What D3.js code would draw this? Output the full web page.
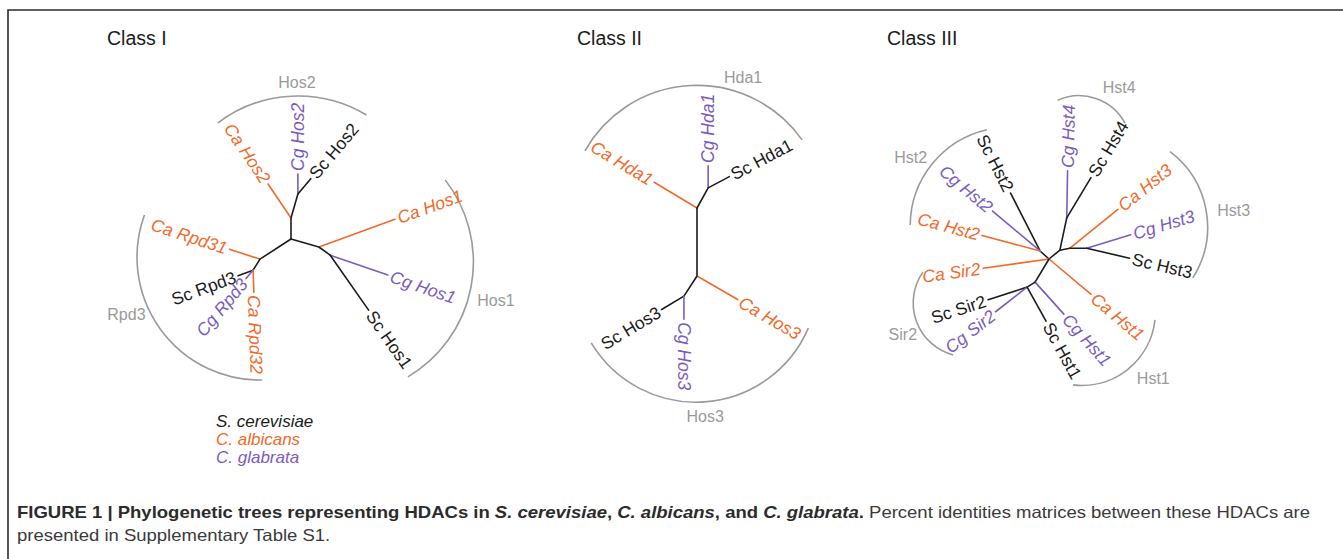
<!DOCTYPE html>
<html><head><meta charset="utf-8">
<script src="https://cdn.jsdelivr.net/npm/d3@7"></script>
<style>body{margin:0;background:#fff}svg{display:block}</style>
</head><body>
<svg id="chart" width="1343" height="559"></svg>
<script>
// ---------------- DATA ----------------
const classTitles = ["Class I", "Class II", "Class III"];
const speciesNames = ["S. cerevisiae", "C. albicans", "C. glabrata"];
const speciesPrefixes = ["Sc", "Ca", "Cg"];

// tree edges: [parent, child, branch length, branch direction (deg, screen)]
const class1Edges = [
  ["root", "n_hos2", 0.21, -90],
  ["n_hos2", "Ca Hos2", 0.41, -124],
  ["n_hos2", "n_hos2b", 0.25, -74],
  ["n_hos2b", "Cg Hos2", 0.20, -90],
  ["n_hos2b", "Sc Hos2", 0.20, -50],
  ["root", "n_hos1", 0.29, 16],
  ["n_hos1", "Ca Hos1", 0.81, -20],
  ["n_hos1", "n_hos1b", 0.14, 36],
  ["n_hos1b", "Cg Hos1", 0.61, 19],
  ["n_hos1b", "Sc Hos1", 0.67, 55],
  ["root", "n_rpd3", 0.37, 147],
  ["n_rpd3", "Ca Rpd31", 0.32, 198],
  ["n_rpd3", "n_rpd3b", 0.13, 122],
  ["n_rpd3b", "Sc Rpd3", 0.16, 160],
  ["n_rpd3b", "Cg Rpd3", 0.11, 130],
  ["n_rpd3b", "Ca Rpd32", 0.22, 88]
];
const class2Edges = [
  ["root", "Ca Hda1", 0.50, -149],
  ["root", "n_hda1b", 0.23, -61],
  ["n_hda1b", "Cg Hda1", 0.22, -90],
  ["n_hda1b", "Sc Hda1", 0.24, -28],
  ["root", "n_hos3", 0.68, 90],
  ["n_hos3", "Ca Hos3", 0.47, 30],
  ["n_hos3", "n_hos3b", 0.24, 123],
  ["n_hos3b", "Sc Hos3", 0.26, 149],
  ["n_hos3b", "Cg Hos3", 0.23, 90]
];
const class3Edges = [
  ["root", "n_hst2", 0.12, -138],
  ["n_hst2", "Sc Hst2", 0.65, -117],
  ["n_hst2", "Cg Hst2", 0.62, -140],
  ["n_hst2", "Ca Hst2", 0.60, -165],
  ["root", "n_up", 0.14, -39],
  ["n_up", "n_hst4", 0.33, -78],
  ["n_hst4", "Cg Hst4", 0.47, -89],
  ["n_hst4", "Sc Hst4", 0.47, -59],
  ["n_up", "n_hst3", 0.10, -11],
  ["n_hst3", "Ca Hst3", 0.62, -39],
  ["n_hst3", "n_hst3b", 0.17, 0],
  ["n_hst3b", "Cg Hst3", 0.46, -17],
  ["n_hst3b", "Sc Hst3", 0.44, 13],
  ["root", "Ca Sir2", 0.665, 172],
  ["root", "Ca Hst1", 0.55, 40],
  ["root", "n_low", 0.27, 121],
  ["n_low", "Cg Hst1", 0.43, 48],
  ["n_low", "n_sir2", 0.094, 148],
  ["n_sir2", "Sc Sir2", 0.41, 162],
  ["n_sir2", "Cg Sir2", 0.40, 142],
  ["n_sir2", "Sc Hst1", 0.39, 61]
];

// clade brackets: [name, centre dx, centre dy, radius, start angle, end angle]
const class1Clades = [
  ["Hos2", 0.07, -0.10, 1.33, -127, -59],
  ["Rpd3", -0.31, 0.18, 1.23, 89, 200],
  ["Hos1", 0.49, 0.23, 1.334, -38, 59.4]
];
const class2Clades = [
  ["Hda1", 0.00, 0.06, 1.286, -150.6, -35.2],
  ["Hos3", -0.01, 0.72, 1.222, 23.2, 149]
];
const class3Clades = [
  ["Hst4", 0.30, -1.11, 0.523, -114, -28.5],
  ["Hst2", -0.40, -0.33, 0.988, -179.4, -102.9],
  ["Hst3", 0.64, -0.32, 0.946, -52.9, 32.5],
  ["Sir2", -0.82, 0.44, 0.538, 105, 215],
  ["Hst1", 0.33, 0.53, 0.734, 6.2, 97]
];

const captionBoldParts = [
  ["FIGURE 1 | Phylogenetic trees representing HDACs in ", false],
  ["S. cerevisiae", true], [", ", false], ["C. albicans", true],
  [", and ", false], ["C. glabrata", true], [".", false]
];
const captionRest = " Percent identities matrices between these HDACs are";
const captionLine2 = "presented in Supplementary Table S1.";

// ---------------- LAYOUT / STYLE ----------------
const W = 1343, H = 559;
const panels = [
  {title: classTitles[0], titleAt: [107, 45], root: [291, 239], edges: class1Edges, clades: class1Clades},
  {title: classTitles[1], titleAt: [577, 45], root: [697, 208], edges: class2Edges, clades: class2Clades},
  {title: classTitles[2], titleAt: [887, 45], root: [1049, 259], edges: class3Edges, clades: class3Clades}
];
// clade label placement: [angle, extra distance beyond arc]
const cladeLabelLayout = {
  Hos2: [-90.4, 14], Rpd3: [153.4, 5], Hos1: [15.5, 9],
  Hda1: [-71.4, 16], Hos3: [86.2, 15],
  Hst4: [-56.3, 20], Hst2: [-140, 8], Hst3: [-9.3, 11], Sir2: [148.2, 5], Hst1: [50.6, 13]
};
const FONT = "'Liberation Sans', Arial, Helvetica, sans-serif";
const speciesColor = d3.scaleOrdinal().domain(speciesPrefixes).range(["#1b1b1b", "#F26A2A", "#7A5CBF"]);
const cladeGray = "#9a9a9a";
const len = d3.scaleLinear().domain([0, 1]).range([0, 100]);
const rad = d => d * Math.PI / 180;

const svg = d3.select("#chart");
svg.append("rect").attr("width", W).attr("height", H).attr("fill", "#fff");
svg.append("path").attr("d", "M8," + H + "V10H" + W)
  .attr("fill", "none").attr("stroke", "#2b2b2b").attr("stroke-width", 1.6);

function layoutTree(edges) {
  const pos = {root: [0, 0]};
  const parents = new Set(edges.map(e => e[0]));
  return edges.map(([p, c, l, a]) => {
    const [px, py] = pos[p];
    const x = px + len(l) * Math.cos(rad(a)), y = py + len(l) * Math.sin(rad(a));
    pos[c] = [x, y];
    return {p, c, a, x1: px, y1: py, x2: x, y2: y, leaf: !parents.has(c)};
  });
}

panels.forEach(panel => {
  svg.append("text").attr("x", panel.titleAt[0]).attr("y", panel.titleAt[1])
    .attr("font-family", FONT).attr("font-size", 19.5).attr("fill", "#1b1b1b").text(panel.title);

  const g = svg.append("g").attr("transform", `translate(${panel.root[0]},${panel.root[1]})`);

  // clade brackets
  panel.clades.forEach(([name, dx, dy, r, a0, a1]) => {
    const cx = len(dx), cy = len(dy), R = len(r);
    const p = d3.path();
    p.arc(cx, cy, R, rad(a0), rad(a1), false);
    g.append("path").attr("d", p.toString()).attr("fill", "none")
      .attr("stroke", cladeGray).attr("stroke-width", 1.6);
    const [la, pad] = cladeLabelLayout[name];
    const c = Math.cos(rad(la));
    g.append("text")
      .attr("x", cx + (R + pad) * Math.cos(rad(la)))
      .attr("y", cy + (R + pad) * Math.sin(rad(la)))
      .attr("dy", "0.35em")
      .attr("text-anchor", c > 0.6 ? "start" : c < -0.6 ? "end" : "middle")
      .attr("font-family", FONT).attr("font-size", 16).attr("fill", cladeGray).text(name);
  });

  const edges = layoutTree(panel.edges);
  g.selectAll("line.b").data(edges).join("line").attr("class", "b")
    .attr("x1", d => d.x1).attr("y1", d => d.y1).attr("x2", d => d.x2).attr("y2", d => d.y2)
    .attr("stroke", d => d.leaf ? speciesColor(d.c.slice(0, 2)) : "#1b1b1b")
    .attr("stroke-width", 1.6).attr("stroke-linecap", "round");

  const gap = 3;
  edges.filter(d => d.leaf).forEach(d => {
    const ca = Math.cos(rad(d.a));
    const right = ca > -0.01;
    const x = d.x2 + gap * ca, y = d.y2 + gap * Math.sin(rad(d.a));
    const rot = right ? d.a : d.a + 180;
    const pre = d.c.slice(0, 2);
    g.append("text")
      .attr("transform", `translate(${x},${y}) rotate(${rot})`)
      .attr("dy", "0.35em")
      .attr("text-anchor", right ? "start" : "end")
      .attr("font-family", FONT).attr("font-size", 17.5)
      .attr("font-style", pre === "Sc" ? "normal" : "italic")
      .attr("fill", speciesColor(pre)).text(d.c);
  });
});

// legend
svg.append("g").selectAll("text").data(speciesNames).join("text")
  .attr("x", 216).attr("y", (d, i) => 427 + i * 18)
  .attr("font-family", FONT).attr("font-size", 17).attr("font-style", "italic")
  .attr("fill", (d, i) => speciesColor(speciesPrefixes[i])).text(d => d);

// caption
const cap1 = svg.append("text").attr("x", 17).attr("y", 518)
  .attr("font-family", FONT).attr("font-size", 16.5).attr("fill", "#2b2b2b");
captionBoldParts.forEach(([t, it]) => {
  cap1.append("tspan").attr("font-weight", "bold").attr("font-style", it ? "italic" : "normal").text(t);
});
cap1.append("tspan").attr("fill", "#3a3a3a").text(captionRest);
const natural1 = cap1.node().getComputedTextLength();
const squeeze = 1293 / natural1;
cap1.attr("textLength", 1293).attr("lengthAdjust", "spacingAndGlyphs");
const cap2 = svg.append("text").attr("x", 17).attr("y", 541)
  .attr("font-family", FONT).attr("font-size", 16.5).attr("fill", "#3a3a3a").text(captionLine2);
const natural2 = cap2.node().getComputedTextLength();
cap2.attr("textLength", natural2 * squeeze).attr("lengthAdjust", "spacingAndGlyphs");
</script>
</body></html>
